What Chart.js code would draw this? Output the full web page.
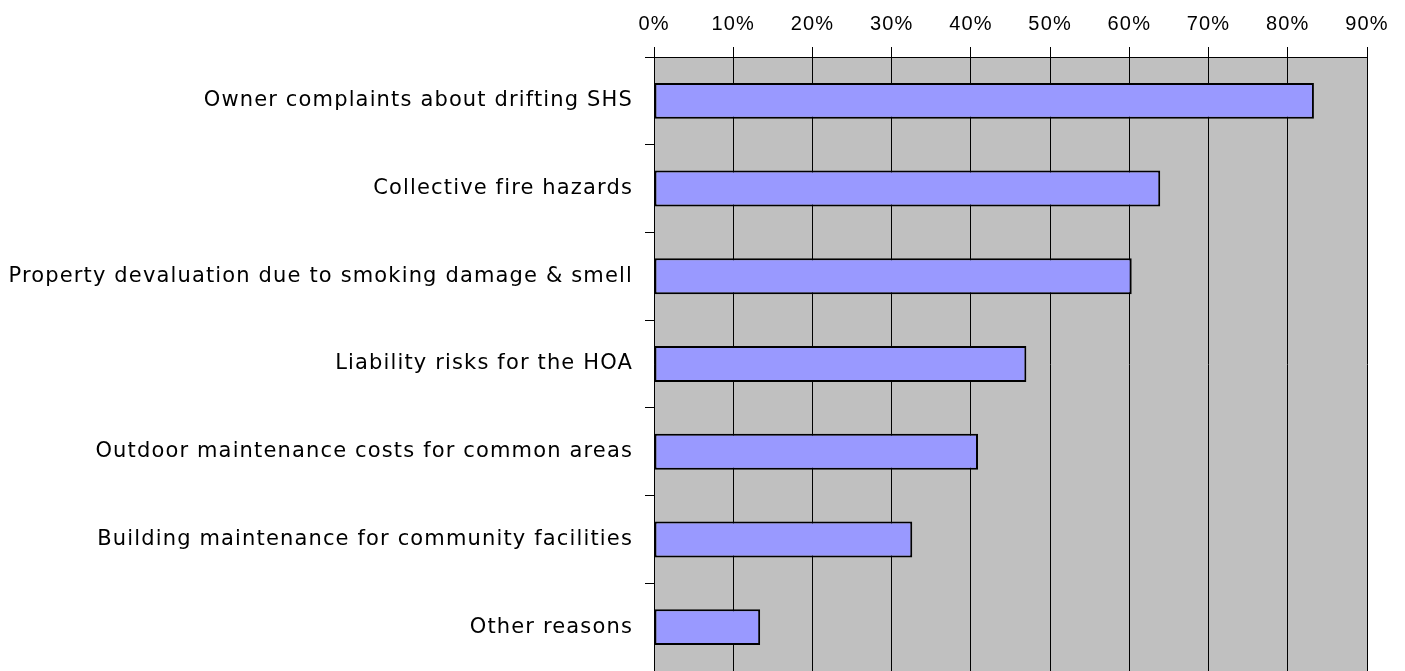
<!DOCTYPE html>
<html>
<head>
<meta charset="utf-8">
<script src="https://cdn.jsdelivr.net/npm/chart.js@4/dist/chart.umd.min.js"></script>
<style>
html,body{margin:0;padding:0;background:#fff;}
#wrap{width:1405px;height:671px;position:relative;}
</style>
</head>
<body>
<div id="wrap"><canvas id="c"></canvas></div>
<script>
const categories = [
  "Owner complaints about drifting SHS",
  "Collective fire hazards",
  "Property devaluation due to smoking damage & smell",
  "Liability risks for the HOA",
  "Outdoor maintenance costs for common areas",
  "Building maintenance for community facilities",
  "Other reasons"
];
const values = [83.3, 63.9, 60.3, 47.0, 40.9, 32.6, 13.4];
const tickMin = 0;
const tickMax = 90;
const tickStep = 10;

const plotBg = {
  id: 'plotBg',
  beforeLayout(chart) { chart.ctx.letterSpacing = '1.15px'; },
  beforeDraw(chart) {
    const {ctx, chartArea: a} = chart;
    ctx.letterSpacing = '1.15px';
    ctx.save();
    ctx.fillStyle = '#C0C0C0';
    ctx.fillRect(a.left, a.top, a.right - a.left, a.bottom - a.top);
    ctx.restore();
  }
};

new Chart(document.getElementById('c'), {
  type: 'bar',
  data: {
    labels: categories,
    datasets: [{
      data: values,
      backgroundColor: '#9999FF',
      borderColor: '#000000',
      borderWidth: 2,
      borderSkipped: false,
      barPercentage: 0.41,
      categoryPercentage: 1.0
    }]
  },
  options: {
    indexAxis: 'y',
    responsive: true,
    maintainAspectRatio: false,
    animation: false,
    layout: { padding: { left: 0, right: 38, top: 0, bottom: 0 } },
    plugins: { legend: { display: false }, tooltip: { enabled: false } },
    scales: {
      x: {
        position: 'top',
        min: tickMin,
        max: tickMax,
        ticks: {
          stepSize: tickStep,
          color: '#000',
          font: { family: 'Liberation Sans', size: 20 },
          padding: 11,
          callback: v => v + '%'
        },
        grid: { color: '#000', lineWidth: 1, tickLength: 10, drawOnChartArea: true },
        border: { display: true, color: '#000', width: 1 },
        afterFit(scale) { scale.height = 57; scale.paddingLeft = 0; scale.paddingRight = 0; }
      },
      y: {
        offset: true,
        ticks: {
          color: '#000',
          font: { family: 'DejaVu Sans', size: 21 },
          padding: 12
        },
        grid: { offset: true, color: '#000', lineWidth: 1, tickLength: 9, drawOnChartArea: false },
        border: { display: true, color: '#000', width: 1 },
        afterFit(scale) { scale.width = 654; scale.paddingTop = 0; scale.paddingBottom = 0; }
      }
    }
  },
  plugins: [plotBg]
});
</script>
</body>
</html>
